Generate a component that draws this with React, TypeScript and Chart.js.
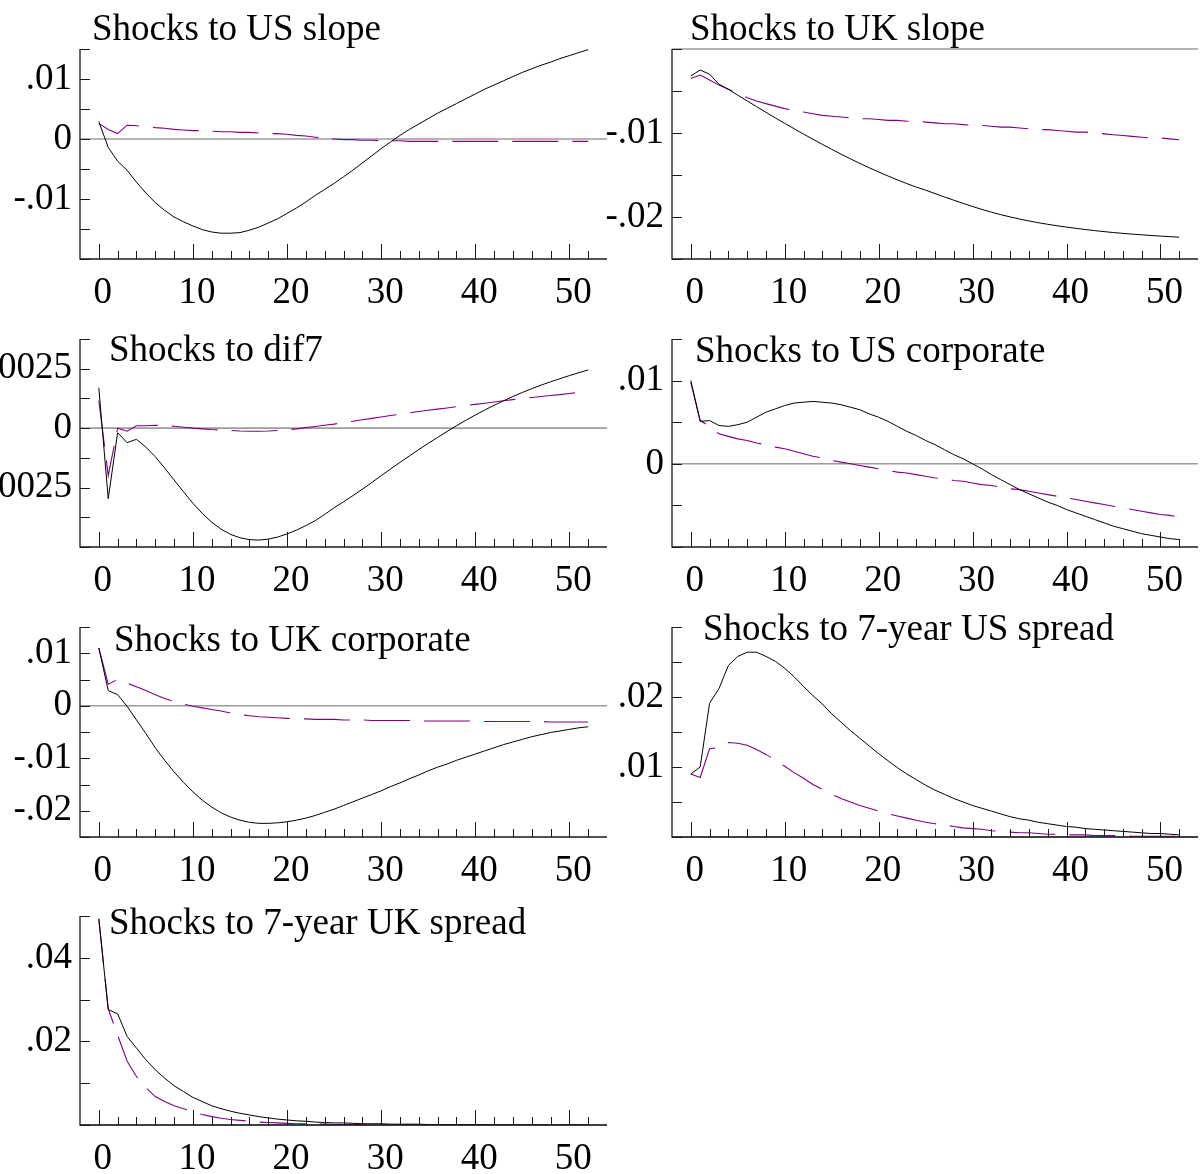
import React, { useEffect, useRef } from "react";
import { Chart, registerables } from "chart.js";

Chart.register(...registerables);

// ---------- data ----------
const horizons = [
  0, 1, 2, 3, 4, 5, 6, 7, 8, 9, 10, 11, 12, 13, 14, 15, 16, 17, 18, 19, 20, 21, 22, 23, 24, 25, 26,
  27, 28, 29, 30, 31, 32, 33, 34, 35, 36, 37, 38, 39, 40, 41, 42, 43, 44, 45, 46, 47, 48, 49, 50, 51, 52,
];
const xTickLabels = [0, 10, 20, 30, 40, 50];

const usSlopeSolid = [
  0.0029, -0.0014, -0.0037, -0.0052, -0.0072, -0.009, -0.0106, -0.0119, -0.013, -0.0138, -0.0145,
  -0.0151, -0.0155, -0.0157, -0.0157, -0.0156, -0.0152, -0.0147, -0.014, -0.0133, -0.0124, -0.0115,
  -0.0105, -0.0094, -0.0084, -0.0074, -0.0063, -0.0052, -0.004, -0.0028, -0.0016, -0.0005, 0.0006,
  0.0016, 0.0025, 0.0034, 0.0043, 0.0051, 0.0059, 0.0067, 0.0075, 0.0083, 0.009, 0.0097, 0.0104,
  0.0111, 0.0117, 0.0123, 0.0128, 0.0134, 0.0139, 0.0144, 0.0149,
];
const usSlopeDashed = [
  0.0026, 0.0016, 0.0009, 0.0023, 0.0022, 0.0021, 0.0019, 0.0018, 0.0016, 0.0015, 0.0014, 0.0014,
  0.0013, 0.0012, 0.0012, 0.0011, 0.0011, 0.001, 0.0009, 0.0009, 0.0008, 0.0006, 0.0005, 0.0003,
  0.0001, 0.0, -0.0001, -0.0001, -0.0002, -0.0002, -0.0003, -0.0003, -0.0003, -0.0004, -0.0004,
  -0.0004, -0.0004, -0.0004, -0.0004, -0.0004, -0.0004, -0.0004, -0.0004, -0.0004, -0.0004, -0.0004,
  -0.0004, -0.0004, -0.0004, -0.0004, -0.0004, -0.0004, -0.0004,
];
const usSlopeTicks = [0.01, 0, -0.01];

const ukSlopeSolid = [
  -0.0032, -0.0025, -0.003, -0.0042, -0.0048, -0.0055, -0.00618, -0.00686, -0.00753, -0.0082,
  -0.00885, -0.00949, -0.01012, -0.01074, -0.01135, -0.01194, -0.01252, -0.01308, -0.01362, -0.01414,
  -0.01464, -0.01512, -0.01558, -0.01602, -0.01644, -0.0168, -0.01721, -0.01761, -0.018, -0.01838,
  -0.01875, -0.0191, -0.01942, -0.01972, -0.01999, -0.02024, -0.02047, -0.02068, -0.02087, -0.02104,
  -0.0212, -0.02135, -0.02149, -0.02162, -0.02174, -0.02185, -0.02195, -0.02204, -0.02212, -0.0222,
  -0.02227, -0.02234, -0.0224,
];
const ukSlopeDashed = [
  -0.0035, -0.0031, -0.0037, -0.0043, -0.0048, -0.0053, -0.0058, -0.0062, -0.0065, -0.0068, -0.0071,
  -0.0073, -0.0075, -0.0077, -0.0079, -0.008, -0.0081, -0.0082, -0.0083, -0.0083, -0.0084, -0.0085,
  -0.0085, -0.0086, -0.0086, -0.0087, -0.0088, -0.0089, -0.0089, -0.009, -0.0091, -0.0091, -0.0092,
  -0.0093, -0.0093, -0.0094, -0.0095, -0.0096, -0.0096, -0.0097, -0.0098, -0.0099, -0.0099, -0.01,
  -0.0101, -0.0102, -0.0103, -0.0104, -0.0105, -0.0106, -0.0106, -0.0107, -0.0108,
];
const ukSlopeTicks = [-0.01, -0.02];

const dif7Solid = [
  0.0017, -0.00297, -0.00019, -0.00061, -0.00047, -0.0008, -0.0012, -0.00168, -0.00218, -0.00268,
  -0.00316, -0.00359, -0.00396, -0.00425, -0.00447, -0.00461, -0.00469, -0.00471, -0.00467, -0.00458,
  -0.00445, -0.00429, -0.0041, -0.00389, -0.00363, -0.00335, -0.0031, -0.00284, -0.00257, -0.00229,
  -0.002, -0.00172, -0.00144, -0.00117, -0.0009, -0.00064, -0.00039, -0.00014, 0.0001, 0.00033,
  0.00055, 0.00076, 0.00096, 0.00115, 0.00133, 0.0015, 0.00166, 0.00181, 0.00195, 0.00208, 0.00221,
  0.00233, 0.00245,
];
const dif7Dashed = [
  0.00115, -0.002, 0.0, -0.00013, 0.0001, 0.0001, 0.00012, 0.0001, 0.00008, 0.00004, 0.0, -0.00003,
  -0.00006, -0.00008, -0.0001, -0.00012, -0.00013, -0.00013, -0.00012, -0.0001, -0.00007, -0.00003,
  0.00002, 0.00007, 0.00012, 0.00017, 0.00023, 0.00029, 0.00035, 0.00041, 0.00047, 0.00053, 0.00058,
  0.00064, 0.0007, 0.00075, 0.0008, 0.00085, 0.0009, 0.00095, 0.001, 0.00105, 0.0011, 0.00115, 0.0012,
  0.00125, 0.00129, 0.00133, 0.00137, 0.00141, 0.00146, 0.0015, 0.00155,
];
const dif7Ticks = [0.0025, 0, -0.0025];

const usCorpSolid = [
  0.01, 0.0051, 0.0052, 0.0046, 0.0045, 0.0047, 0.005, 0.0056, 0.0062, 0.0066, 0.007, 0.0073, 0.0074,
  0.0075, 0.0074, 0.0073, 0.0071, 0.0068, 0.0065, 0.006, 0.0056, 0.0051, 0.0045, 0.0039, 0.0034,
  0.0028, 0.0023, 0.0017, 0.0011, 0.0006, 0.0, -0.0006, -0.0013, -0.0019, -0.0025, -0.0031, -0.0036,
  -0.0041, -0.0046, -0.005, -0.0055, -0.0059, -0.0063, -0.0067, -0.0071, -0.0075, -0.0078, -0.0081,
  -0.0084, -0.0086, -0.0088, -0.009, -0.0091,
];
const usCorpDashed = [
  0.0098, 0.0052, 0.0045, 0.0036, 0.0033, 0.003, 0.0028, 0.0025, 0.0023, 0.002, 0.0018, 0.0015,
  0.0012, 0.0009, 0.0007, 0.0004, 0.0002, 0.0, -0.0002, -0.0004, -0.0006, -0.0008, -0.001, -0.0011,
  -0.0013, -0.0015, -0.0017, -0.0018, -0.002, -0.0021, -0.0023, -0.0025, -0.0026, -0.0028, -0.003,
  -0.0031, -0.0033, -0.0035, -0.0037, -0.0039, -0.0041, -0.0043, -0.0045, -0.0047, -0.0049, -0.0051,
  -0.0053, -0.0055, -0.0057, -0.0059, -0.0061, -0.0062, -0.0064,
];
const usCorpTicks = [0.01, 0];

const ukCorpSolid = [
  0.011, 0.0029, 0.0021, -0.0001, -0.0027, -0.0053, -0.008, -0.0104, -0.0126, -0.0146, -0.0164,
  -0.018, -0.0193, -0.0204, -0.0212, -0.0218, -0.0222, -0.0224, -0.0224, -0.0223, -0.0221, -0.0218,
  -0.0214, -0.0209, -0.0203, -0.0197, -0.019, -0.0183, -0.0176, -0.0169, -0.0162, -0.0154, -0.0147,
  -0.0139, -0.0132, -0.0124, -0.0117, -0.0111, -0.0104, -0.0098, -0.0092, -0.0086, -0.008, -0.0074,
  -0.0069, -0.0064, -0.0059, -0.0055, -0.0051, -0.0048, -0.0045, -0.0042, -0.004,
];
const ukCorpDashed = [
  0.011, 0.0041, 0.005, 0.0043, 0.0036, 0.0029, 0.0021, 0.0014, 0.0008, 0.0003, -0.0001, -0.0004,
  -0.0007, -0.001, -0.0014, -0.0017, -0.0019, -0.0021, -0.0022, -0.0023, -0.0024, -0.0025, -0.0025,
  -0.0026, -0.0026, -0.0026, -0.0027, -0.0027, -0.0027, -0.0028, -0.0028, -0.0028, -0.0028, -0.0028,
  -0.0029, -0.0029, -0.0029, -0.0029, -0.0029, -0.0029, -0.0029, -0.003, -0.003, -0.003, -0.003,
  -0.003, -0.003, -0.003, -0.0031, -0.0031, -0.0031, -0.0031, -0.0031,
];
const ukCorpTicks = [0.01, 0, -0.01, -0.02];

const usSpreadSolid = [
  0.009, 0.01, 0.0191, 0.0212, 0.0245, 0.0258, 0.0264, 0.0264, 0.0258, 0.0251, 0.0241, 0.0229, 0.0215,
  0.0202, 0.019, 0.0176, 0.0164, 0.0152, 0.0141, 0.013, 0.0119, 0.0109, 0.0099, 0.009, 0.0082, 0.0074,
  0.0067, 0.0061, 0.0055, 0.005, 0.0045, 0.0041, 0.0037, 0.0033, 0.0029, 0.0026, 0.0024, 0.0021,
  0.0019, 0.0017, 0.0015, 0.0014, 0.0012, 0.0011, 0.001, 0.0009, 0.0008, 0.0007, 0.0006, 0.0005,
  0.0005, 0.0004, 0.0003,
];
const usSpreadDashed = [
  0.009, 0.0085, 0.0126, 0.0128, 0.0135, 0.0134, 0.0131, 0.0125, 0.0118, 0.011, 0.0101, 0.0092,
  0.0084, 0.0075, 0.0068, 0.0061, 0.0055, 0.005, 0.0045, 0.0041, 0.0037, 0.0033, 0.003, 0.0027, 0.0024,
  0.0021, 0.0019, 0.0017, 0.0015, 0.0013, 0.0012, 0.0011, 0.0009, 0.0008, 0.0007, 0.0006, 0.0006,
  0.0005, 0.0004, 0.0004, 0.0003, 0.0003, 0.0003, 0.0002, 0.0002, 0.0002, 0.0002, 0.0001, 0.0001,
  0.0001, 0.0001, 0.0001, 0.0001,
];
const usSpreadTicks = [0.02, 0.01];

const ukSpreadSolid = [
  0.0493, 0.0276, 0.0266, 0.0212, 0.0184, 0.0156, 0.0132, 0.0112, 0.0094, 0.008, 0.0066, 0.0056,
  0.0046, 0.0039, 0.0033, 0.0028, 0.0024, 0.002, 0.0017, 0.0014, 0.0012, 0.001, 0.0009, 0.0007, 0.0006,
  0.0005, 0.0005, 0.0004, 0.0003, 0.0003, 0.0003, 0.0002, 0.0002, 0.0002, 0.0002, 0.0001, 0.0001,
  0.0001, 0.0001, 0.0001, 0.0001, 0.0001, 0.0, 0.0, 0.0, 0.0, 0.0, 0.0, 0.0, 0.0, 0.0, 0.0, 0.0,
];
const ukSpreadDashed = [
  0.0493, 0.0278, 0.0215, 0.0153, 0.0116, 0.0089, 0.0068, 0.0056, 0.0046, 0.0039, 0.0032, 0.0025, 0.002,
  0.0016, 0.0013, 0.0011, 0.0009, 0.0007, 0.0006, 0.0005, 0.0004, 0.0003, 0.0003, 0.0002, 0.0002,
  0.0001, 0.0001, 0.0001, 0.0001, 0.0001, 0.0, 0.0, 0.0, 0.0, 0.0, 0.0, 0.0, 0.0, 0.0, 0.0, 0.0, 0.0,
  0.0, 0.0, 0.0, 0.0, 0.0, 0.0, 0.0, 0.0, 0.0, 0.0, 0.0,
];
const ukSpreadTicks = [0.04, 0.02];

// ---------- layout / styling ----------
const FONT_FAMILY = '"Liberation Serif", "Times New Roman", Times, serif';
const LABEL_SIZE = 37;
const TITLE_SIZE = 37;
const PURPLE = "#800080";
const X_MIN = -2;
const X_MAX = 54;
const X_AXIS_H = 58;

const COLS = [
  { canvasLeft: 0, width: 612, axisX: 80, plotRight: 607 },
  { canvasLeft: 600, width: 600, axisX: 672, plotRight: 1198 },
];
const ROWS = [
  { canvasTop: 0, plotTop: 49, plotBottom: 259 },
  { canvasTop: 290, plotTop: 339, plotBottom: 547 },
  { canvasTop: 578, plotTop: 627, plotBottom: 837 },
  { canvasTop: 867, plotTop: 916, plotBottom: 1125 },
];

const PANELS = [
  { title: "Shocks to US slope", solid: usSlopeSolid, dashed: usSlopeDashed, ticks: usSlopeTicks,
    yMin: -0.02, yMax: 0.015, yStep: 0.005, col: 0, row: 0, tx: 92, ty: 40 },
  { title: "Shocks to UK slope", solid: ukSlopeSolid, dashed: ukSlopeDashed, ticks: ukSlopeTicks,
    yMin: -0.025, yMax: 0, yStep: 0.005, col: 1, row: 0, tx: 690, ty: 40 },
  { title: "Shocks to dif7", solid: dif7Solid, dashed: dif7Dashed, ticks: dif7Ticks,
    yMin: -0.005, yMax: 0.00375, yStep: 0.00125, col: 0, row: 1, tx: 109, ty: 361 },
  { title: "Shocks to US corporate", solid: usCorpSolid, dashed: usCorpDashed, ticks: usCorpTicks,
    yMin: -0.01, yMax: 0.015, yStep: 0.005, col: 1, row: 1, tx: 695, ty: 362 },
  { title: "Shocks to UK corporate", solid: ukCorpSolid, dashed: ukCorpDashed, ticks: ukCorpTicks,
    yMin: -0.025, yMax: 0.015, yStep: 0.005, col: 0, row: 2, tx: 114, ty: 651 },
  { title: "Shocks to 7-year US spread", solid: usSpreadSolid, dashed: usSpreadDashed, ticks: usSpreadTicks,
    yMin: 0, yMax: 0.03, yStep: 0.005, col: 1, row: 2, tx: 703, ty: 640 },
  { title: "Shocks to 7-year UK spread", solid: ukSpreadSolid, dashed: ukSpreadDashed, ticks: ukSpreadTicks,
    yMin: 0, yMax: 0.05, yStep: 0.01, col: 0, row: 3, tx: 109, ty: 934 },
];

function fmt(v: number): string {
  if (Math.abs(v) < 1e-12) return "0";
  const s = String(Math.abs(v)).replace(/^0/, "");
  return (v < 0 ? "-" : "") + s;
}

const framePlugin = {
  id: "frame",
  beforeDatasetsDraw(chart: any) {
    const { ctx, chartArea: a } = chart;
    const y = chart.scales.y;
    if (y.min <= 0 && y.max >= 0) {
      const py = y.getPixelForValue(0);
      ctx.save();
      ctx.strokeStyle = "#9c9c9c";
      ctx.lineWidth = 1.6;
      ctx.beginPath();
      ctx.moveTo(a.left, py);
      ctx.lineTo(a.right, py);
      ctx.stroke();
      ctx.restore();
    }
  },
  afterDatasetsDraw(chart: any, _args: any, opts: any) {
    const { ctx, chartArea: a } = chart;
    const x = chart.scales.x;
    const y = chart.scales.y;
    ctx.save();
    ctx.strokeStyle = "#1a1a1a";
    ctx.lineWidth = 1.3;
    ctx.beginPath();
    ctx.moveTo(a.left, a.top);
    ctx.lineTo(a.left, a.bottom);
    ctx.lineTo(a.right, a.bottom);
    ctx.stroke();
    ctx.lineWidth = 1;
    ctx.beginPath();
    const step = opts.yStep;
    const start = Math.ceil(y.min / step - 1e-6);
    const end = Math.floor(y.max / step + 1e-6);
    for (let k = start; k <= end; k++) {
      const py = Math.round(y.getPixelForValue(k * step)) + 0.5;
      ctx.moveTo(a.left, py);
      ctx.lineTo(a.left + 10, py);
    }
    for (let h = 0; h <= 52; h += 2) {
      const px = Math.round(x.getPixelForValue(h)) + 0.5;
      const len = h % 10 === 0 ? 15 : 8;
      ctx.moveTo(px, a.bottom);
      ctx.lineTo(px, a.bottom - len);
    }
    ctx.stroke();
    ctx.restore();
  },
  afterDraw(chart: any, _args: any, opts: any) {
    const { ctx } = chart;
    ctx.save();
    ctx.fillStyle = "#000";
    ctx.font = `${TITLE_SIZE}px ${FONT_FAMILY}`;
    ctx.textBaseline = "alphabetic";
    ctx.textAlign = "left";
    ctx.fillText(opts.title, opts.tx, opts.ty);
    ctx.restore();
  },
};

function Panel({ p }: { p: any }) {
  const ref = useRef<HTMLCanvasElement | null>(null);
  const col = COLS[p.col];
  const row = ROWS[p.row];
  const w = col.width;
  const h = row.plotBottom - row.canvasTop + X_AXIS_H;

  useEffect(() => {
    if (!ref.current) return;
    const yAxisW = col.axisX - col.canvasLeft;
    const chart = new Chart(ref.current, {
      type: "line",
      data: {
        datasets: [
          {
            data: horizons.map((hz, i) => ({ x: hz, y: p.solid[i] })),
            borderColor: "#000",
            borderWidth: 1,
            pointRadius: 0,
            tension: 0,
            fill: false,
            order: 0,
          },
          {
            data: horizons.map((hz, i) => ({ x: hz, y: p.dashed[i] })),
            borderColor: PURPLE,
            borderWidth: 1.1,
            borderDash: [46, 14],
            pointRadius: 0,
            tension: 0,
            fill: false,
            order: 1,
          },
        ],
      },
      options: {
        animation: false,
        responsive: false,
        devicePixelRatio: 1,
        layout: {
          padding: {
            top: row.plotTop - row.canvasTop,
            right: col.canvasLeft + w - col.plotRight,
            left: 0,
            bottom: 0,
          },
        },
        plugins: {
          legend: { display: false },
          tooltip: { enabled: false },
          title: { display: false },
          frame: {
            yStep: p.yStep,
            title: p.title,
            tx: p.tx - col.canvasLeft,
            ty: p.ty - row.canvasTop,
          },
        } as any,
        scales: {
          x: {
            type: "linear",
            min: X_MIN,
            max: X_MAX,
            grid: { display: false, drawTicks: false },
            border: { display: false },
            ticks: {
              color: "#000",
              font: { family: FONT_FAMILY, size: LABEL_SIZE },
              padding: 12,
              labelOffset: 4,
              maxRotation: 0,
              autoSkip: false,
              callback: (v: any) => String(v),
            },
            afterBuildTicks: (s: any) => {
              s.ticks = xTickLabels.map((v) => ({ value: v }));
            },
            afterFit: (s: any) => {
              s.height = X_AXIS_H;
              s.paddingLeft = 0;
              s.paddingRight = 0;
              s.paddingTop = 0;
              s.paddingBottom = 0;
            },
          },
          y: {
            type: "linear",
            min: p.yMin,
            max: p.yMax,
            grid: { display: false, drawTicks: false },
            border: { display: false },
            ticks: {
              color: "#000",
              font: { family: FONT_FAMILY, size: LABEL_SIZE },
              padding: 8,
              autoSkip: false,
              callback: (v: any) => fmt(Number(v)),
            },
            afterBuildTicks: (s: any) => {
              s.ticks = p.ticks.map((v: number) => ({ value: v }));
            },
            afterFit: (s: any) => {
              s.width = yAxisW;
              s.paddingLeft = 0;
              s.paddingRight = 0;
              s.paddingTop = 0;
              s.paddingBottom = 0;
            },
          },
        },
      } as any,
      plugins: [framePlugin as any],
    });
    return () => chart.destroy();
  }, []);

  return (
    <canvas
      ref={ref}
      width={w}
      height={h}
      style={{ position: "absolute", left: col.canvasLeft, top: row.canvasTop, width: w, height: h }}
    />
  );
}

export default function App() {
  return (
    <div
      style={{
        position: "absolute",
        left: 0,
        top: 0,
        width: 1200,
        height: 1174,
        overflow: "hidden",
        background: "#fff",
      }}
    >
      {PANELS.map((p, i) => (
        <Panel key={i} p={p} />
      ))}
    </div>
  );
}
